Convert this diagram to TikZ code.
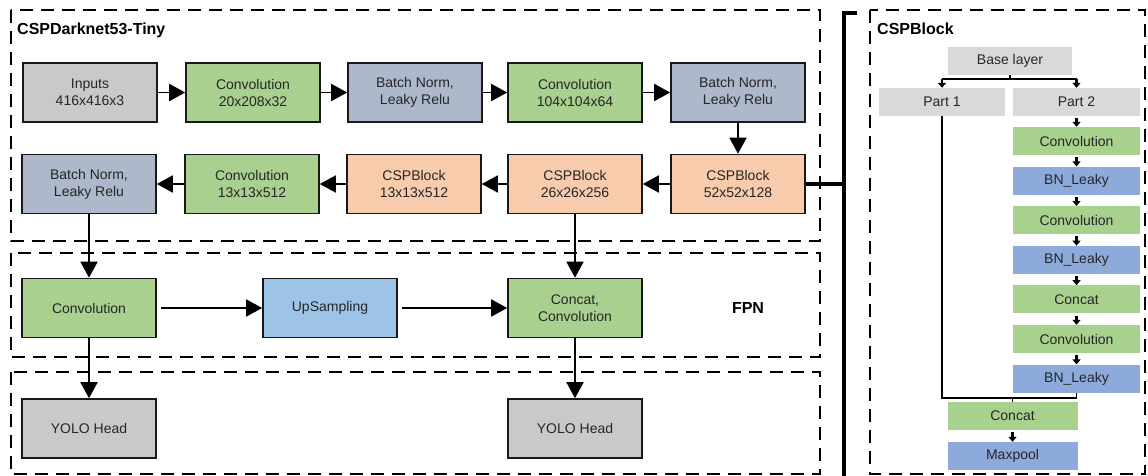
\documentclass[tikz,border=0pt]{standalone}
\usepackage{fontspec}
\setmainfont{Liberation Sans}
\usetikzlibrary{arrows.meta}

\definecolor{ingray}{HTML}{C9C9C9}
\definecolor{convgreen}{HTML}{A9D08E}
\definecolor{bnblue}{HTML}{ADB9CA}
\definecolor{csporange}{HTML}{F8CBAD}
\definecolor{upblue}{HTML}{9DC3E6}
\definecolor{lightgray}{HTML}{D9D9D9}
\definecolor{flatblue}{HTML}{8EAADB}
\definecolor{flatgreen}{HTML}{A9D18E}

\begin{document}
\begin{tikzpicture}[x=1pt,y=-1pt,
  blk/.style={draw=black!90, line width=1.6pt, minimum width=134pt, minimum height=59pt,
    inner sep=0pt, align=center, text=black!85, font=\fontsize{14}{17}\selectfont},
  flat/.style={minimum width=127pt, minimum height=28pt, inner sep=0pt,
    text=black!85, font=\fontsize{14}{16}\selectfont},
  frame/.style={draw=black, line width=2.6pt, dash pattern=on 13pt off 8pt},
  ttl/.style={inner sep=0pt, font=\bfseries\fontsize{16}{19}\selectfont},
  arr/.style={draw=black, line width=1.8pt, -{Triangle[length=16pt,width=17pt]}},
  sarr/.style={draw=black, line width=2.4pt, -{Triangle[length=5pt,width=8pt]}},
  wire/.style={draw=black, line width=1.6pt},
]
\useasboundingbox (0,0) rectangle (1148,476);

% group frames
\draw[frame] (11,10) rectangle (820,241);
\draw[frame] (11,253) rectangle (820,357);
\draw[frame] (11,372) rectangle (820,474);
\draw[frame] (870,10) rectangle (1145,474);

\node[ttl, anchor=west] (t1) at (17,30) {CSPDarknet53-Tiny};
\node[ttl, anchor=west] (t2) at (877,29) {CSPBlock};
\node[ttl] (fpn) at (748,308) {FPN};

% backbone, first row
\node[blk, fill=ingray]    (in)   at (90,92.5)  {Inputs\\416x416x3};
\node[blk, fill=convgreen] (c1)   at (253,92.5) {Convolution\\20x208x32};
\node[blk, fill=bnblue]    (b1)   at (415,92.5) {Batch Norm,\\Leaky Relu};
\node[blk, fill=convgreen] (c2)   at (575,92.5) {Convolution\\104x104x64};
\node[blk, fill=bnblue]    (b2)   at (738,92.5) {Batch Norm,\\Leaky Relu};

% backbone, second row
\node[blk, fill=bnblue]    (b3)   at (89,184)   {Batch Norm,\\Leaky Relu};
\node[blk, fill=convgreen] (c3)   at (252,184)  {Convolution\\13x13x512};
\node[blk, fill=csporange] (s13)  at (414,184)  {CSPBlock\\13x13x512};
\node[blk, fill=csporange] (s26)  at (575,184)  {CSPBlock\\26x26x256};
\node[blk, fill=csporange] (s52)  at (738,184)  {CSPBlock\\52x52x128};

% FPN
\node[blk, fill=convgreen] (fc)   at (89,308)   {Convolution};
\node[blk, fill=upblue]    (up)   at (330,308)  {UpSampling};
\node[blk, fill=convgreen] (cc)   at (575,308)  {Concat,\\Convolution};

% heads
\node[blk, fill=ingray]    (h1)   at (89,428.5) {YOLO Head};
\node[blk, fill=ingray]    (h2)   at (575,428.5){YOLO Head};

\draw[arr] (in) -- (c1);
\draw[arr] (c1) -- (b1);
\draw[arr] (b1) -- (c2);
\draw[arr] (c2) -- (b2);
\draw[arr] (b2) -- (s52);
\draw[arr] (s52) -- (s26);
\draw[arr] (s26) -- (s13);
\draw[arr] (s13) -- (c3);
\draw[arr] (c3) -- (b3);
\draw[arr] (b3) -- (fc);
\draw[arr] (s26) -- (cc);
\draw[arr, shorten <=4pt] (fc) -- (up);
\draw[arr, shorten <=4pt] (up) -- (cc);
\draw[arr] (fc) -- (h1);
\draw[arr] (cc) -- (h2);

% bracket tying the CSP block to its detail
\coordinate (btop) at (844,13);
\coordinate (bbot) at (844,478);
\coordinate (btick) at (857,13);
\draw[line width=3.4pt] (s52.east) -- (s52.east -| btop);
\draw[line width=3.4pt, line join=miter] (btick) -- (btop) -- (bbot);

% CSPBlock detail
\node[flat, fill=lightgray, minimum width=124pt] (base)  at (1010,61)    {Base layer};
\node[flat, fill=lightgray, minimum width=126pt] (part1) at (942,102)    {Part 1};
\node[flat, fill=lightgray]  (part2) at (1076.5,102)  {Part 2};
\node[flat, fill=flatgreen]  (d1)    at (1076.5,141)  {Convolution};
\node[flat, fill=flatblue]   (d2)    at (1076.5,180.6){BN\_Leaky};
\node[flat, fill=flatgreen]  (d3)    at (1076.5,220.2){Convolution};
\node[flat, fill=flatblue]   (d4)    at (1076.5,259.8){BN\_Leaky};
\node[flat, fill=flatgreen]  (d5)    at (1076.5,299.4){Concat};
\node[flat, fill=flatgreen]  (d6)    at (1076.5,339)  {Convolution};
\node[flat, fill=flatblue]   (d7)    at (1076.5,378.6){BN\_Leaky};
\node[flat, fill=flatgreen, minimum width=130pt] (cat) at (1012.5,416) {Concat};
\node[flat, fill=flatblue, minimum width=130pt]  (mp)  at (1012.5,456) {Maxpool};

\coordinate (fork) at (1010,79);
\draw[wire] (base.south) -- (fork);
\draw[wire] (fork -| part1) -- (fork -| part2);
\draw[sarr] (fork -| part1) -- (part1.north);
\draw[sarr] (fork -| part2) -- (part2.north);

\draw[sarr, shorten <=2pt] (part2) -- (d1);
\draw[sarr, shorten <=2pt] (d1) -- (d2);
\draw[sarr, shorten <=2pt] (d2) -- (d3);
\draw[sarr, shorten <=2pt] (d3) -- (d4);
\draw[sarr, shorten <=2pt] (d4) -- (d5);
\draw[sarr, shorten <=2pt] (d5) -- (d6);
\draw[sarr, shorten <=2pt] (d6) -- (d7);

\coordinate (merge) at (1012.5,398);
\draw[wire] (part1.south) |- (merge) -| (d7.south);
\draw[wire] (merge) -- (cat.north);
\draw[sarr, shorten <=2pt] (cat) -- (mp);
\end{tikzpicture}
\end{document}
